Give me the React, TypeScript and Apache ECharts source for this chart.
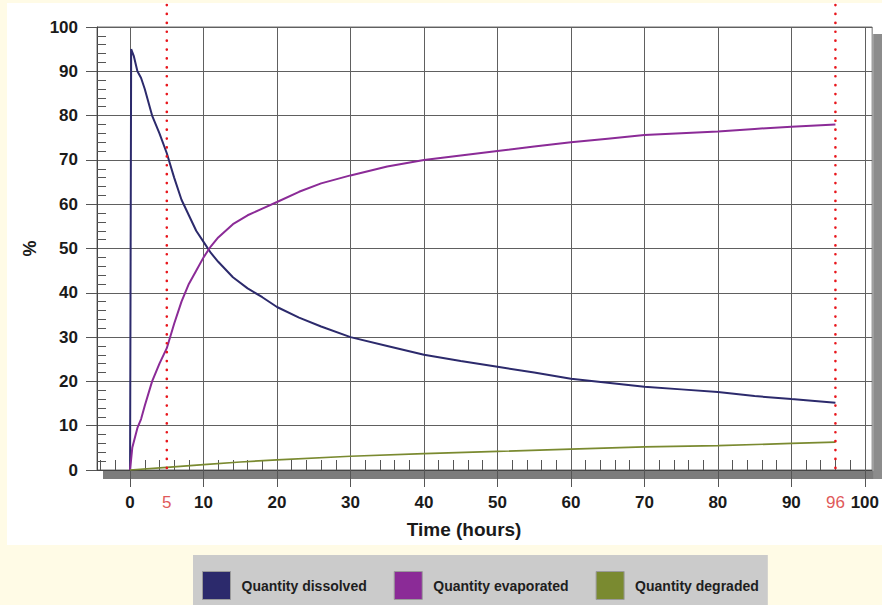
import React, { useEffect, useRef } from "react";
import * as echarts from "echarts";

// ---- Data ----
const seriesNames = ["Quantity dissolved", "Quantity evaporated", "Quantity degraded"];
const seriesColors = ["#2c2a6c", "#8b2b97", "#7a8a30"];

const dissolvedHours = [0, 0.15, 0.5, 1, 1.5, 2, 3, 4, 5, 6, 7, 8, 9, 10, 11, 12, 14, 16, 18, 20, 23, 26, 30, 35, 40, 45, 50, 55, 60, 65, 70, 75, 80, 85, 90, 96];
const dissolvedValues = [0, 95, 93.5, 90, 88.5, 86, 80, 76, 71.5, 66, 61, 57.5, 54, 51.5, 49, 47, 43.5, 41, 39, 36.8, 34.4, 32.4, 30, 28, 26, 24.6, 23.3, 22, 20.6, 19.7, 18.8, 18.2, 17.6, 16.7, 16, 15.2];

const evaporatedHours = [0, 0.3, 1, 1.5, 2, 3, 4, 5, 6, 7, 8, 9, 10, 11, 12, 14, 16, 18, 20, 23, 26, 30, 35, 40, 45, 50, 55, 60, 65, 70, 75, 80, 85, 90, 96];
const evaporatedValues = [0, 5, 9.5, 11.5, 14.5, 20, 24, 27.5, 33, 38, 42, 45, 48, 50.5, 52.5, 55.5, 57.5, 59, 60.5, 62.8, 64.7, 66.5, 68.5, 70, 71, 72, 73, 74, 74.8, 75.6, 76, 76.4, 77, 77.5, 78];

const degradedHours = [0, 5, 10, 15, 20, 30, 40, 50, 60, 70, 80, 90, 96];
const degradedValues = [0, 0.6, 1.2, 1.8, 2.3, 3.1, 3.7, 4.2, 4.7, 5.2, 5.5, 6, 6.3];

const xMajorTicks = [0, 10, 20, 30, 40, 50, 60, 70, 80, 90, 100];
const xLabelValues = [0, 5, 10, 20, 30, 40, 50, 60, 70, 80, 90, 96, 100];
const xMinorTicks = [-4, -2, 2, 4, 6, 8, 12, 14, 16, 18, 22, 24, 26, 28, 32, 34, 36, 38, 42, 44, 46, 48, 52, 54, 56, 58, 62, 64, 66, 68, 72, 74, 76, 78, 82, 84, 86, 88, 92, 94, 96, 98];
const markerHours = [5, 96];

const FONT = "'Liberation Sans', Arial, Helvetica, sans-serif";
const CREAM = "#fffbe6";

const zip = (xs: number[], ys: number[]) => xs.map((x, i) => [x, ys[i]]);

export default function App() {
  const ref = useRef<HTMLDivElement>(null);

  useEffect(() => {
    if (!ref.current) return;
    const chart = echarts.init(ref.current, undefined, { renderer: "svg" });

    const option: any = {
      animation: false,
      backgroundColor: "#ffffff",
      grid: {
        left: 97,
        top: 27,
        right: 6,
        bottom: 135,
        show: true,
        borderColor: "#707070",
        borderWidth: 1,
        backgroundColor: "transparent",
      },
      legend: {
        data: seriesNames,
        left: 193,
        top: 555,
        z: 40,
        icon: "rect",
        itemWidth: 28,
        itemHeight: 28,
        itemGap: 27,
        padding: [16, 9, 8, 9],
        backgroundColor: "#cbcbcb",
        itemStyle: { borderColor: "#9a9a9a", borderWidth: 1 },
        textStyle: { fontFamily: FONT, fontSize: 14, fontWeight: "bold", color: "#1e1e1e", padding: [0, 0, 0, 6] },
      },
      xAxis: [
        {
          type: "value",
          min: -4.5,
          max: 101,
          position: "bottom",
          z: 10,
          name: "Time (hours)",
          nameLocation: "middle",
          nameGap: 50,
          nameTextStyle: { fontFamily: FONT, fontSize: 19, fontWeight: "bold", color: "#1a1a1a", padding: [0, 41, 0, 0] },
          axisLine: { show: true, onZero: false, lineStyle: { color: "#444", width: 1 } },
          axisTick: { show: true, inside: false, length: 17, customValues: xMajorTicks, lineStyle: { color: "#555" } },
          axisLabel: {
            customValues: xLabelValues,
            margin: 24,
            fontFamily: FONT,
            fontSize: 17,
            fontWeight: "bold",
            color: "#1a1a1a",
            formatter: (v: number) => (markerHours.indexOf(v) >= 0 ? `{r|${v}}` : `${v}`),
            rich: { r: { color: "#e05a5a", fontFamily: FONT, fontSize: 17, fontWeight: "normal" } },
          },
          splitLine: { show: true, lineStyle: { color: "#606060", width: 1 } },
        },
        {
          type: "value",
          min: -4.5,
          max: 101,
          position: "bottom",
          z: 10,
          axisLine: { show: false, onZero: false },
          axisTick: { show: true, inside: true, length: 10, customValues: xMinorTicks, lineStyle: { color: "#555" } },
          axisLabel: { show: false },
          splitLine: { show: false },
        },
      ],
      yAxis: [
        {
          type: "value",
          min: 0,
          max: 100,
          interval: 10,
          position: "left",
          z: 10,
          name: "%",
          nameLocation: "middle",
          nameGap: 56,
          nameTextStyle: { fontFamily: FONT, fontSize: 18, fontWeight: "bold", color: "#1a1a1a" },
          axisLine: { show: true, onZero: false, lineStyle: { color: "#444", width: 1 } },
          axisTick: { show: true, inside: false, length: 11, lineStyle: { color: "#555" } },
          axisLabel: { margin: 19, fontFamily: FONT, fontSize: 17, fontWeight: "bold", color: "#1a1a1a" },
          splitLine: { show: true, lineStyle: { color: "#606060", width: 1 } },
        },
        {
          type: "value",
          min: 0,
          max: 100,
          interval: 10,
          position: "left",
          z: 10,
          axisLine: { show: false, onZero: false },
          axisTick: { show: false, inside: true },
          minorTick: { show: true, splitNumber: 5, length: 9, lineStyle: { color: "#555" } },
          axisLabel: { show: false },
          splitLine: { show: false },
        },
      ],
      series: [
        {
          name: seriesNames[0],
          type: "line",
          xAxisIndex: 0,
          yAxisIndex: 0,
          z: 20,
          showSymbol: false,
          color: seriesColors[0],
          lineStyle: { width: 2, color: seriesColors[0] },
          data: zip(dissolvedHours, dissolvedValues),
        },
        {
          name: seriesNames[1],
          type: "line",
          xAxisIndex: 0,
          yAxisIndex: 0,
          z: 20,
          showSymbol: false,
          color: seriesColors[1],
          lineStyle: { width: 2, color: seriesColors[1] },
          data: zip(evaporatedHours, evaporatedValues),
        },
        {
          name: seriesNames[2],
          type: "line",
          xAxisIndex: 0,
          yAxisIndex: 0,
          z: 20,
          showSymbol: false,
          color: seriesColors[2],
          lineStyle: { width: 1.7, color: seriesColors[2] },
          data: zip(degradedHours, degradedValues),
        },
      ],
    };

    chart.setOption(option);

    const x0 = chart.convertToPixel({ xAxisIndex: 0 }, -4.5) as number;
    const x1 = chart.convertToPixel({ xAxisIndex: 0 }, 101) as number;
    const y0 = chart.convertToPixel({ yAxisIndex: 0 }, 0) as number;
    const y1 = chart.convertToPixel({ yAxisIndex: 0 }, 100) as number;

    const graphics: any[] = [
      // cream page margins
      { type: "rect", z: 1, silent: true, shape: { x: 0, y: 0, width: 882, height: 3 }, style: { fill: CREAM } },
      { type: "rect", z: 1, silent: true, shape: { x: 0, y: 0, width: 7, height: 605 }, style: { fill: CREAM } },
      { type: "rect", z: 1, silent: true, shape: { x: 0, y: 545, width: 882, height: 60 }, style: { fill: CREAM } },
      // drop shadows of the plot frame
      { type: "rect", z: 1, silent: true, shape: { x: x0 + 6, y: y0 + 1, width: 882 - x0 - 6, height: 8 }, style: { fill: "#7c7c7c" } },
      { type: "rect", z: 1, silent: true, shape: { x: x1 + 1, y: y1 + 7, width: 882 - x1 - 1, height: y0 - y1 + 2 }, style: { fill: "#8c8c8c" } },
    ];
    markerHours.forEach((h) => {
      const px = chart.convertToPixel({ xAxisIndex: 0 }, h) as number;
      graphics.push({
        type: "line",
        z: 30,
        silent: true,
        shape: { x1: px, y1: 5, x2: px, y2: y0 + 3 },
        style: { stroke: "#e8161c", lineWidth: 2.6, lineDash: [0.1, 8.8], lineCap: "round" },
      });
    });
    chart.setOption({ graphic: { elements: graphics } });

    return () => chart.dispose();
  }, []);

  return <div ref={ref} style={{ position: "fixed", left: 0, top: 0, width: 882, height: 605 }} />;
}
